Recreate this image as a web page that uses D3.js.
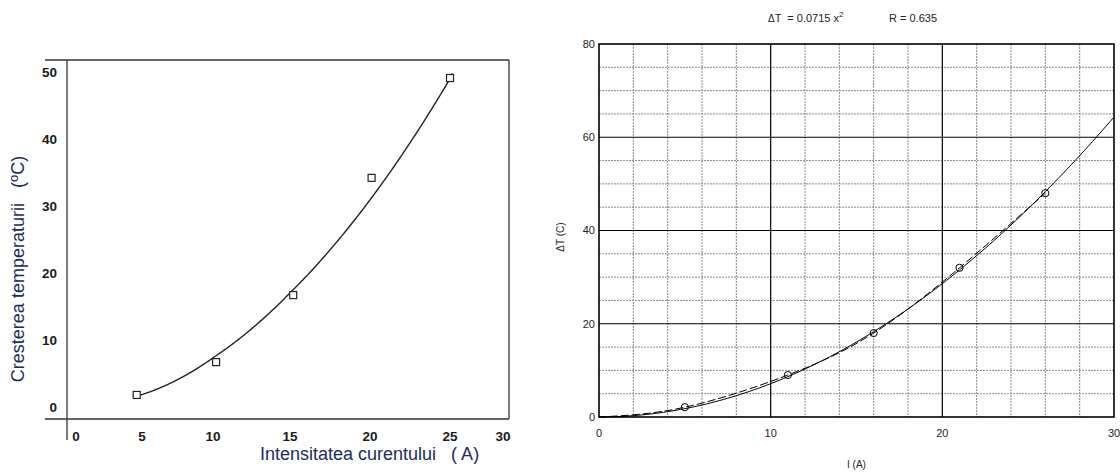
<!DOCTYPE html>
<html>
<head>
<meta charset="utf-8">
<script src="https://cdn.jsdelivr.net/npm/d3@7"></script>
<style>
  body { margin: 0; background: #fff; }
  svg { display: block; font-family: "Liberation Sans", Arial, sans-serif; }
</style>
</head>
<body>
<svg width="1120" height="473"></svg>
<script>
// left chart (scanned plot) data
var leftCurrent = [4.6, 10.2, 15.2, 20.1, 25.0],
    leftRise = [1.8, 6.7, 16.7, 34.2, 49.1],
    leftFit = [0.084, -0.163, 0.573],      // a x^2 + b x + c
    leftFitRange = [4.6, 25.2],
    leftXTicks = [0, 5, 10, 15, 20, 25, 30],
    leftYTicks = [0, 10, 20, 30, 40, 50];

// right chart data
var rightCurrent = [5, 11, 16, 21, 26],
    rightDeltaT = [2.1, 9, 18, 32, 48],
    rightCoef = 0.0715,
    rightR = 0.635,
    rightXTicks = [0, 10, 20, 30],
    rightYTicks = [0, 20, 40, 60, 80];

var svg = d3.select("svg");

// ---------- left chart ----------
var L = {left: 67, right: 509, top: 60, bottom: 419},
    navy = "#1c2a5c";

// scanned axis labels are not evenly spaced
var xL = d3.scaleLinear().domain(leftXTicks).range([76, 142, 213, 290, 370, 450, 503]),
    yL = d3.scaleLinear().domain([0, 50]).range([407, 72]);

var gl = svg.append("g");

gl.append("line").attr("x1", 45).attr("x2", L.right).attr("y1", L.top).attr("y2", L.top);
gl.append("line").attr("x1", 45).attr("x2", L.right).attr("y1", L.bottom).attr("y2", L.bottom);
gl.append("line").attr("x1", L.left).attr("x2", L.left).attr("y1", L.top).attr("y2", 440);
gl.append("line").attr("x1", L.right).attr("x2", L.right).attr("y1", L.top).attr("y2", L.bottom);
gl.selectAll("line").attr("stroke", "#333").attr("stroke-width", 1.3);

gl.selectAll(".ytl").data(leftYTicks).enter().append("text")
    .attr("x", 57).attr("y", function(d) { return yL(d); })
    .attr("dy", "0.35em").attr("text-anchor", "end")
    .attr("font-size", 13.5).attr("font-weight", "bold").attr("fill", "#1a1a1a")
    .text(function(d) { return d; });

gl.selectAll(".xtl").data(leftXTicks).enter().append("text")
    .attr("x", function(d) { return xL(d); }).attr("y", 441)
    .attr("text-anchor", "middle")
    .attr("font-size", 13.5).attr("font-weight", "bold").attr("fill", "#1a1a1a")
    .text(function(d) { return d; });

var fitPts = d3.range(leftFitRange[0], leftFitRange[1] + 0.001, 0.1).map(function(x) {
    return [x, leftFit[0] * x * x + leftFit[1] * x + leftFit[2]];
});
gl.append("path").datum(fitPts)
    .attr("fill", "none").attr("stroke", "#222").attr("stroke-width", 1.4)
    .attr("d", d3.line().x(function(d) { return xL(d[0]); }).y(function(d) { return yL(d[1]); }));

gl.selectAll(".sq").data(leftCurrent).enter().append("rect")
    .attr("x", function(d) { return xL(d) - 3.5; })
    .attr("y", function(d, i) { return yL(leftRise[i]) - 3.5; })
    .attr("width", 7).attr("height", 7)
    .attr("fill", "#fff").attr("stroke", "#222").attr("stroke-width", 1.2);

gl.append("text")
    .attr("x", 260).attr("y", 460)
    .attr("font-size", 18).attr("fill", navy)
    .attr("xml:space", "preserve")
    .text("Intensitatea curentului   ( A)");

var yt = gl.append("text")
    .attr("transform", "translate(24,269) rotate(-90)")
    .attr("text-anchor", "middle")
    .attr("font-size", 18).attr("fill", navy)
    .attr("xml:space", "preserve");
yt.append("tspan").text("Cresterea temperaturii   (");
yt.append("tspan").attr("font-size", 13).attr("dy", -6).text("o");
yt.append("tspan").attr("dy", 6).text("C)");

// ---------- right chart ----------
var R = {left: 599, right: 1114, top: 44, bottom: 417};

var xR = d3.scaleLinear().domain([0, 30]).range([R.left, R.right]),
    yR = d3.scaleLinear().domain([0, 80]).range([R.bottom, R.top]);

var gr = svg.append("g");

// minor grid
gr.selectAll(".vmin").data(d3.range(2, 30, 2).filter(function(d) { return d % 10; })).enter().append("line")
    .attr("x1", xR).attr("x2", xR).attr("y1", R.top).attr("y2", R.bottom)
    .attr("stroke", "#8a8a8a").attr("stroke-width", 1).attr("stroke-dasharray", "2,1");
gr.selectAll(".hmin").data(d3.range(5, 80, 5).filter(function(d) { return d % 20; })).enter().append("line")
    .attr("y1", yR).attr("y2", yR).attr("x1", R.left).attr("x2", R.right)
    .attr("stroke", "#8a8a8a").attr("stroke-width", 1).attr("stroke-dasharray", "2,1");

// major grid
gr.selectAll(".vmaj").data([10, 20]).enter().append("line")
    .attr("x1", xR).attr("x2", xR).attr("y1", R.top).attr("y2", R.bottom)
    .attr("stroke", "#000").attr("stroke-width", 1.2);
gr.selectAll(".hmaj").data([20, 40, 60]).enter().append("line")
    .attr("y1", yR).attr("y2", yR).attr("x1", R.left).attr("x2", R.right)
    .attr("stroke", "#000").attr("stroke-width", 1.2);

gr.append("rect")
    .attr("x", R.left).attr("y", R.top)
    .attr("width", R.right - R.left).attr("height", R.bottom - R.top)
    .attr("fill", "none").attr("stroke", "#000").attr("stroke-width", 1.6);

gr.selectAll(".ytr").data(rightYTicks).enter().append("text")
    .attr("x", R.left - 4).attr("y", yR).attr("dy", "0.35em")
    .attr("text-anchor", "end").attr("font-size", 11).attr("fill", "#222")
    .text(function(d) { return d; });
gr.selectAll(".xtr").data(rightXTicks).enter().append("text")
    .attr("x", xR).attr("y", 437)
    .attr("text-anchor", "middle").attr("font-size", 11).attr("fill", "#222")
    .text(function(d) { return d; });

// fitted curve  dT = c x^2
var fitR = d3.range(0, 30.001, 0.25).map(function(x) { return [x, rightCoef * x * x]; });
gr.append("path").datum(fitR)
    .attr("fill", "none").attr("stroke", "#000").attr("stroke-width", 1)
    .attr("d", d3.line().x(function(d) { return xR(d[0]); }).y(function(d) { return yR(d[1]); }));

// smooth dashed line through the measurements, starting at origin
var dashPts = [[0, 0]].concat(rightCurrent.map(function(x, i) { return [x, rightDeltaT[i]]; }));
gr.append("path").datum(dashPts)
    .attr("fill", "none").attr("stroke", "#000").attr("stroke-width", 1)
    .attr("stroke-dasharray", "8,3")
    .attr("d", d3.line().curve(d3.curveNatural)
        .x(function(d) { return xR(d[0]); }).y(function(d) { return yR(d[1]); }));

gr.selectAll(".pt").data(rightCurrent).enter().append("circle")
    .attr("cx", xR).attr("cy", function(d, i) { return yR(rightDeltaT[i]); })
    .attr("r", 3.6).attr("fill", "none").attr("stroke", "#000").attr("stroke-width", 1);

var title = gr.append("text").attr("y", 22).attr("font-size", 11).attr("fill", "#222")
    .attr("xml:space", "preserve");
title.append("tspan").attr("x", 768).attr("font-size", 10).text("\u0394");
title.append("tspan").text("T  = " + rightCoef + " x");
title.append("tspan").attr("font-size", 8).attr("dy", -5).text("2");
title.append("tspan").attr("x", 889).attr("dy", 5).text("R = " + rightR);

gr.append("text")
    .attr("transform", "translate(564,237) rotate(-90)")
    .attr("text-anchor", "middle").attr("font-size", 10).attr("fill", "#222")
    .text("\u0394T (C)");

gr.append("text")
    .attr("x", (R.left + R.right) / 2).attr("y", 468)
    .attr("text-anchor", "middle").attr("font-size", 10).attr("fill", "#222")
    .text("I (A)");
</script>
</body>
</html>
